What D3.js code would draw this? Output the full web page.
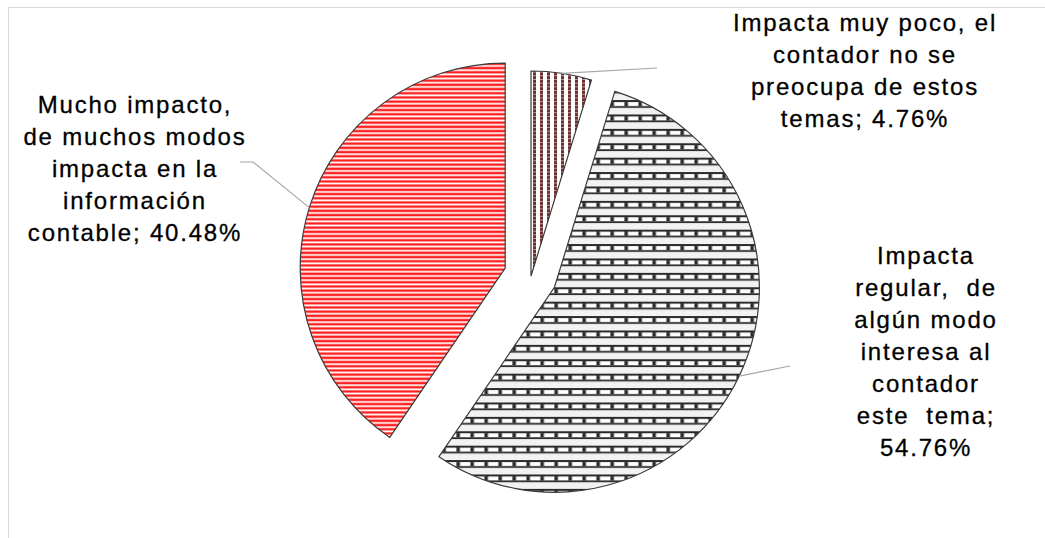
<!DOCTYPE html>
<html><head><meta charset="utf-8">
<script src="https://cdn.jsdelivr.net/npm/d3@7"></script>
<style>
html,body{margin:0;padding:0;background:#fff;}
svg{display:block;}
</style></head>
<body>
<svg id="chart" width="1045" height="538"></svg>
<script>
// ---- data ----
const categories = [
  "Impacta muy poco, el\ncontador no se\npreocupa de estos\ntemas; 4.76%",
  "Impacta\nregular,  de\nalgún modo\ninteresa al\ncontador\neste  tema;\n54.76%",
  "Mucho impacto,\nde muchos modos\nimpacta en la\ninformación\ncontable; 40.48%"
];
const values = [4.76, 54.76, 40.48];
const explode = [0, 26, 27];

// ---- layout ----
const W = 1045, H = 538;
const cx = 531, cy = 276, R = 205;
const labelPos = [[865, 31], [926, 264], [135, 113]];
const lineH = 32;
const leaders = [
  [[657, 68]],
  [[790, 366]],
  [[253, 162], [240, 162]]
];

const svg = d3.select("#chart");
svg.append("rect").attr("x", 8.5).attr("y", 7.5).attr("width", 1060).attr("height", 560)
  .attr("fill", "#fff").attr("stroke", "#d9d9d9").attr("stroke-width", 1);

const defs = svg.append("defs");
// small slice: vertical dashed brown stripes
const p0 = defs.append("pattern").attr("id", "p0").attr("patternUnits", "userSpaceOnUse")
  .attr("width", 7).attr("height", 3.7);
p0.append("rect").attr("width", 7).attr("height", 3.7).attr("fill", "#fff");
p0.append("rect").attr("x", 2).attr("y", 0).attr("width", 3).attr("height", 3.2).attr("fill", "#6e2f2f");
// large slice: brick pattern
const p1 = defs.append("pattern").attr("id", "p1").attr("patternUnits", "userSpaceOnUse")
  .attr("width", 14).attr("height", 14.4);
p1.append("rect").attr("width", 14).attr("height", 14.4).attr("fill", "#fff");
p1.append("rect").attr("x", 0).attr("y", 0).attr("width", 14).attr("height", 2).attr("fill", "#2a2a2a");
p1.append("rect").attr("x", 0).attr("y", 6).attr("width", 14).attr("height", 2).attr("fill", "#2a2a2a");
p1.append("rect").attr("x", 0).attr("y", 2).attr("width", 3.5).attr("height", 4).attr("fill", "#2a2a2a");
p1.append("rect").attr("x", 0).attr("y", 8).attr("width", 14).attr("height", 6.4).attr("fill", "#f2f2f2");
// red slice: horizontal red stripes
const p2 = defs.append("pattern").attr("id", "p2").attr("patternUnits", "userSpaceOnUse")
  .attr("width", 10).attr("height", 4.2);
p2.append("rect").attr("width", 10).attr("height", 4.2).attr("fill", "#fff");
p2.append("rect").attr("y", 0).attr("width", 10).attr("height", 0.8).attr("fill", "#ff8a8a");
p2.append("rect").attr("y", 0.8).attr("width", 10).attr("height", 1.8).attr("fill", "#ff1f1f");
p2.append("rect").attr("y", 2.6).attr("width", 10).attr("height", 0.7).attr("fill", "#ffa0a0");

const fills = ["url(#p0)", "url(#p1)", "url(#p2)"];

const pie = d3.pie().sort(null).value(d => d);
const arcs = pie(values);
const arc = d3.arc().innerRadius(0).outerRadius(R);

const g = svg.append("g").attr("transform", `translate(${cx},${cy})`);

arcs.forEach((a, i) => {
  const mid = (a.startAngle + a.endAngle) / 2;
  const dx = explode[i] * Math.sin(mid), dy = -explode[i] * Math.cos(mid);
  const sg = g.append("g").attr("transform", `translate(${dx},${dy})`);
  sg.append("path").attr("d", arc(a)).attr("fill", fills[i])
    .attr("stroke", "#3a3a3a").attr("stroke-width", 1.2).attr("stroke-linejoin", "miter");
  // leader line from arc midpoint
  const sx = cx + dx + R * Math.sin(mid), sy = cy + dy - R * Math.cos(mid);
  const pts = [[sx, sy]].concat(leaders[i]);
  svg.append("path").attr("d", d3.line()(pts)).attr("fill", "none")
    .attr("stroke", "#a6a6a6").attr("stroke-width", 1.2);
});

categories.forEach((txt, i) => {
  const lines = txt.split("\n");
  const t = svg.append("text")
    .attr("font-family", "'Liberation Sans', Arial, sans-serif")
    .attr("font-size", 24).attr("letter-spacing", 1.8)
    .attr("fill", "#000").attr("text-anchor", "middle")
    .attr("stroke", "#000").attr("stroke-width", 0.3);
  lines.forEach((l, j) => {
    t.append("tspan").attr("x", labelPos[i][0]).attr("y", labelPos[i][1] + j * lineH)
      .attr("xml:space", "preserve").style("white-space", "pre").text(l);
  });
});
</script>
</body></html>
